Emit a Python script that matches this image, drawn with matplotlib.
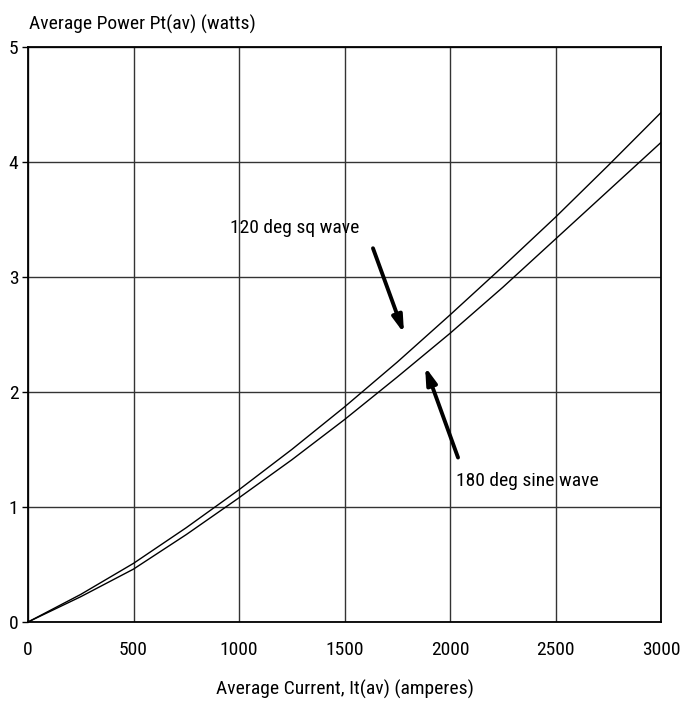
import matplotlib
matplotlib.use("Agg")
import matplotlib.pyplot as plt
from matplotlib import font_manager

# Data
current = [0, 250, 500, 750, 1000, 1250, 1500, 1750, 2000, 2250, 2500, 2750, 3000]
power_sq120 = [0, 0.24, 0.51, 0.82, 1.15, 1.50, 1.87, 2.26, 2.67, 3.09, 3.52, 3.97, 4.43]
power_sine180 = [0, 0.22, 0.46, 0.76, 1.08, 1.41, 1.76, 2.13, 2.51, 2.91, 3.33, 3.75, 4.17]

x_ticks = [0, 500, 1000, 1500, 2000, 2500, 3000]
y_ticks = [0, 1, 2, 3, 4, 5]

names = {f.name for f in font_manager.fontManager.ttflist}
prefs = ['Liberation Sans Narrow', 'Arial Narrow', 'Roboto Condensed', 'DejaVu Sans']
fam = [f for f in prefs if f in names] or ['DejaVu Sans']
plt.rcParams['font.family'] = fam
FS = 14.0

fig = plt.figure(figsize=(6.83, 7.01), dpi=100)
ax = fig.add_axes([28/683, 79/701, 633/683, 575/701])

ax.plot(current, power_sq120, color='black', lw=1.0)
ax.plot(current, power_sine180, color='black', lw=1.0)

ax.set_xlim(0, 3000)
ax.set_ylim(0, 5)
ax.set_xticks(x_ticks)
ax.set_yticks(y_ticks)
ax.grid(True, color='#333333', lw=1.0)
ax.set_axisbelow(True)
for s in ax.spines.values():
    s.set_color('black')
    s.set_linewidth(1.3)
ax.tick_params(axis='x', length=0, pad=14, labelsize=FS)
ax.tick_params(axis='y', length=4, width=1, pad=3, labelsize=FS)

ax.set_xlabel('Average Current, It(av) (amperes)', fontsize=FS, labelpad=15)
fig.text(29/683, 1 - 24/701, 'Average Power Pt(av) (watts)', fontsize=FS,
         ha='left', va='center')

ax.text(957, 3.43, '120 deg sq wave', fontsize=FS, ha='left', va='center')
ax.text(2028, 1.23, '180 deg sine wave', fontsize=FS, ha='left', va='center')

arrowprops = dict(arrowstyle='-|>,head_length=1.0,head_width=0.3', color='black',
                  lw=2.8, shrinkA=0, shrinkB=0)
ax.annotate('', xy=(1782, 2.51), xytext=(1635, 3.25), arrowprops=arrowprops)
ax.annotate('', xy=(1882, 2.22), xytext=(2038, 1.43), arrowprops=arrowprops)

fig.savefig('out.png', dpi=100)
